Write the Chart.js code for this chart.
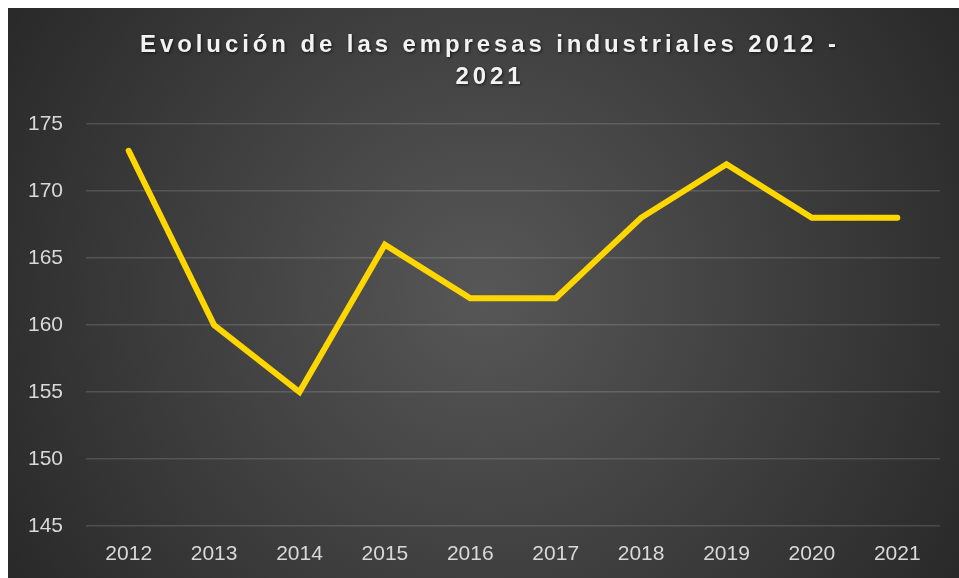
<!DOCTYPE html>
<html><head><meta charset="utf-8">
<script src="https://cdn.jsdelivr.net/npm/chart.js@4/dist/chart.umd.min.js"></script>
<style>
html,body{margin:0;padding:0;background:#fff;overflow:hidden;width:959px;height:578px;}
#wrap{position:absolute;left:8px;top:8px;width:951px;height:570px;}
</style></head>
<body><div id="wrap"><canvas id="c" width="951" height="570"></canvas></div>
<script>
const titleLines = ["Evolución de las empresas industriales 2012 -", "2021"];
const categories = ["2012","2013","2014","2015","2016","2017","2018","2019","2020","2021"];
const empresas = [173,160,155,166,162,162,168,172,168,168];
const yMin = 145, yMax = 175, yStep = 5;

const bgPlugin = {
  id:'bg',
  beforeDraw(chart){
    const {ctx,width,height}=chart;
    ctx.save();
    const g=ctx.createRadialGradient(width*0.5,height*0.5,0,width*0.5,height*0.5,Math.max(width,height)*0.62);
    g.addColorStop(0,'#575757');
    g.addColorStop(1,'#262626');
    ctx.fillStyle=g;
    ctx.fillRect(0,0,width,height);
    ctx.restore();
  },
  afterDraw(chart){
    const ctx=chart.ctx;
    ctx.save();
    const sp=3.9;
    ctx.font='bold 24px "Liberation Sans", Arial, sans-serif';
    ctx.letterSpacing=sp+'px';
    ctx.fillStyle='#f2f2f2';
    ctx.textAlign='left';
    ctx.textBaseline='alphabetic';
    ctx.shadowColor='rgba(0,0,0,0.65)';
    ctx.shadowBlur=3;
    ctx.shadowOffsetX=1;
    ctx.shadowOffsetY=1;
    const cx=480;
    titleLines.forEach((t,i)=>{
      const w=ctx.measureText(t).width-sp;
      ctx.fillText(t,cx-w/2,44+i*32);
    });
    ctx.restore();
  }
};

new Chart(document.getElementById('c'),{
  type:'line',
  data:{labels:categories,datasets:[{
    data:empresas,
    borderColor:'#FFD700',
    borderWidth:6,
    borderCapStyle:'round',
    borderJoinStyle:'miter',
    pointRadius:0,
    tension:0,
    fill:false
  }]},
  options:{
    responsive:false,
    animation:false,
    layout:{padding:{left:10,right:19,top:116,bottom:0}},
    plugins:{legend:{display:false},title:{display:false},tooltip:{enabled:false}},
    scales:{
      x:{
        offset:true,
        grid:{display:false},
        border:{display:false},
        ticks:{color:'#d9d9d9',font:{family:'"Liberation Sans", Arial, sans-serif',size:21},padding:8,maxRotation:0},
        afterFit(s){s.height=52;}
      },
      y:{
        min:yMin,max:yMax,
        ticks:{stepSize:yStep,color:'#d9d9d9',font:{family:'"Liberation Sans", Arial, sans-serif',size:21},padding:23},
        grid:{color:'rgba(255,255,255,0.14)',lineWidth:1.5,drawTicks:false},
        border:{display:false},
        afterFit(s){s.width=68;}
      }
    }
  },
  plugins:[bgPlugin]
});
</script></body></html>
